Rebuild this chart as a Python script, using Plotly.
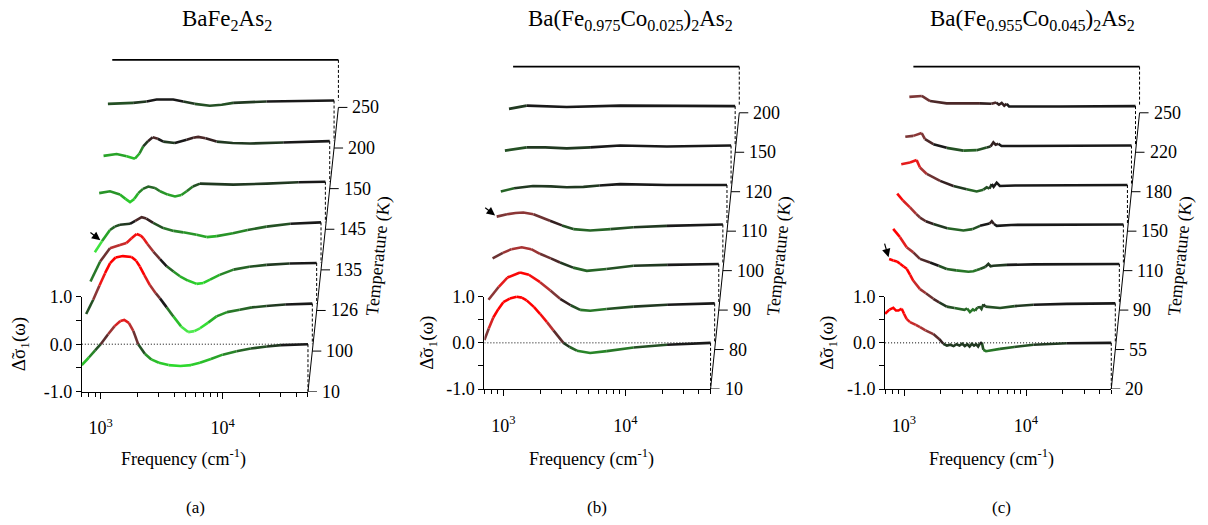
import math
import plotly.graph_objects as go

# ---------------------------------------------------------------------------
# Δσ1(ω) difference spectra; frequency in cm^-1, one curve per temperature (K)
# ---------------------------------------------------------------------------

# (a) BaFe2As2
temps_a = [10, 100, 126, 135, 145, 150, 200, 250]
a010_f = [700, 800, 900, 1000, 1150, 1300, 1450, 1560, 1700, 1850, 2030, 2300, 2600, 3000, 3600, 4500,
          5500, 6500, 8000, 10000, 13000, 17000, 23000, 30000, 40000, 50000]
a010_v = [-0.44, -0.28, -0.13, 0.0, 0.21, 0.38, 0.49, 0.51, 0.45, 0.28, 0.0, -0.2, -0.32, -0.39, -0.44, -0.46,
          -0.44, -0.39, -0.31, -0.22, -0.15, -0.09, -0.05, -0.02, -0.01, 0.0]
a100_f = [700, 800, 900, 1000, 1100, 1220, 1400, 1650, 1800, 1930, 2100, 2330, 2600, 2820, 3200, 3630, 4200,
          4800, 5400, 6000, 7000, 8200, 10000, 12700, 16000, 21000, 30000, 50000]
a100_v = [-0.22, 0.08, 0.38, 0.64, 0.85, 0.97, 1.0, 0.98, 0.9, 0.78, 0.6, 0.39, 0.22, 0.11, -0.08, -0.27, -0.48,
          -0.6, -0.58, -0.52, -0.4, -0.27, -0.18, -0.13, -0.08, -0.05, -0.02, 0.0]
a126_f = [700, 840, 1010, 1220, 1380, 1520, 1670, 1800, 1900, 2050, 2290, 2600, 2950, 3350, 3790, 4400, 5190,
          5900, 6680, 8000, 10400, 14000, 19400, 30000, 50000]
a126_v = [-0.39, 0.03, 0.31, 0.38, 0.42, 0.52, 0.61, 0.58, 0.52, 0.4, 0.24, 0.08, -0.07, -0.18, -0.28, -0.37,
          -0.44, -0.42, -0.35, -0.25, -0.14, -0.08, -0.04, -0.01, 0.0]
a135_f = [700, 800, 931, 1020, 1124, 1250, 1358, 1500, 1693, 1850, 2106, 2546, 3100, 3710, 4780, 5770, 7000,
          9480, 12500, 17880, 28000, 50000]
a135_v = [-0.63, -0.4, -0.16, -0.09, -0.05, -0.03, -0.03, 0.03, 0.11, 0.08, -0.01, -0.12, -0.18, -0.21, -0.26,
          -0.31, -0.29, -0.23, -0.16, -0.09, -0.03, 0.0]
a145_f = [700, 858, 1036, 1150, 1252, 1360, 1464, 1600, 1769, 2000, 2207, 2550, 2928, 3300, 3650, 4100, 4690,
          6000, 8790, 16540, 30000, 50000]
a145_v = [-0.24, -0.2, -0.27, -0.36, -0.43, -0.36, -0.24, -0.15, -0.1, -0.13, -0.2, -0.27, -0.31, -0.28, -0.2,
          -0.1, -0.04, -0.05, -0.06, -0.04, -0.01, 0.0]
a150_f = [700, 896, 1082, 1266, 1380, 1480, 1620, 1769, 1950, 2160, 2690, 3360, 3800, 4180, 4800, 5910, 8000,
          11100, 20800, 50000]
a150_v = [-0.31, -0.27, -0.32, -0.37, -0.26, -0.11, 0.0, 0.08, 0.05, -0.01, -0.04, 0.03, 0.07, 0.09, 0.06,
          -0.01, -0.04, -0.05, -0.03, 0.0]
a200_f = [700, 1128, 1453, 1755, 2400, 2900, 3600, 4790, 6000, 7440, 14000, 50000]
a200_v = [-0.07, -0.05, -0.02, 0.02, 0.02, -0.02, -0.07, -0.11, -0.09, -0.05, -0.02, 0.0]
a250_f = [700, 50000]
a250_v = [0.0, 0.0]

# (b) Ba(Fe0.975Co0.025)2As2
temps_b = [10, 80, 90, 100, 110, 120, 150, 200]
b010_f = [700, 760, 828, 910, 1000, 1130, 1288, 1420, 1553, 1780, 2000, 2280, 2575, 3110, 3500, 4010, 5150,
          7060, 11700, 22000, 50000]
b010_v = [0.06, 0.31, 0.55, 0.73, 0.88, 0.96, 1.0, 0.98, 0.92, 0.78, 0.63, 0.45, 0.27, 0.0, -0.09, -0.17,
          -0.22, -0.18, -0.1, -0.04, 0.0]
b080_f = [700, 850, 1000, 1269, 1500, 1852, 2250, 2704, 3300, 3950, 4770, 6500, 10800, 20400, 50000]
b080_v = [0.08, 0.36, 0.56, 0.67, 0.62, 0.46, 0.28, 0.1, -0.04, -0.14, -0.16, -0.12, -0.07, -0.03, 0.0]
b090_f = [700, 850, 1000, 1213, 1450, 1710, 2100, 2500, 3200, 4140, 6000, 10000, 18900, 50000]
b090_v = [0.12, 0.24, 0.32, 0.36, 0.32, 0.22, 0.12, 0.03, -0.08, -0.15, -0.11, -0.04, -0.02, 0.0]
b100_f = [700, 850, 1000, 1157, 1400, 1913, 2400, 2970, 4080, 6000, 9250, 17400, 50000]
b100_v = [0.17, 0.22, 0.25, 0.26, 0.22, 0.08, -0.02, -0.1, -0.13, -0.1, -0.06, -0.03, 0.0]
b110_f = [700, 900, 1285, 1800, 2430, 3330, 4500, 6660, 16100, 50000]
b110_v = [-0.14, -0.07, -0.02, -0.03, -0.05, -0.04, -0.01, 0.02, 0.0, 0.0]
b120_f = [700, 1056, 1500, 2250, 3500, 6170, 14900, 50000]
b120_v = [-0.11, -0.04, -0.04, -0.06, -0.04, 0.0, -0.02, 0.0]
b150_f = [700, 978, 2080, 5720, 13800, 50000]
b150_v = [-0.06, 0.01, -0.02, 0.01, 0.0, 0.0]
b200_f = [700, 50000]
b200_v = [0.0, 0.0]

# (c) Ba(Fe0.955Co0.045)2As2
temps_c = [20, 55, 90, 110, 150, 180, 220, 250]
c020_f = [700, 760, 817, 860, 900, 958, 1000, 1050, 1120, 1250, 1353, 1500, 1740, 1950, 2100, 2250, 2400, 2550,
          2700, 2850, 3000, 3150, 3300, 3450, 3600, 3750, 3900, 4050, 4200, 4350, 4470, 4700, 6120, 8000, 11500,
          21600, 50000]
c020_v = [0.63, 0.72, 0.76, 0.7, 0.7, 0.74, 0.63, 0.52, 0.45, 0.39, 0.34, 0.27, 0.19, 0.08, -0.02, -0.06, -0.04,
          -0.07, -0.03, -0.06, -0.02, -0.07, -0.03, -0.08, -0.02, -0.06, -0.03, -0.08, -0.01, 0.01, -0.15, -0.18,
          -0.13, -0.09, -0.04, -0.01, 0.0]
c055_f = [700, 758, 810, 860, 920, 976, 1040, 1105, 1253, 1400, 1612, 1800, 2075, 2400, 2667, 2900, 3050, 3218,
          3400, 3550, 3700, 3890, 4000, 4150, 4300, 5000, 5680, 7500, 10650, 20000, 50000]
c055_v = [0.96, 0.93, 0.91, 0.86, 0.8, 0.75, 0.62, 0.49, 0.31, 0.22, 0.1, 0.02, -0.07, -0.1, -0.12, -0.14, -0.11,
          -0.19, -0.13, -0.16, -0.09, -0.08, -0.12, -0.02, -0.07, -0.09, -0.1, -0.06, -0.03, -0.01, 0.0]
c090_f = [700, 796, 903, 1023, 1160, 1403, 1650, 1922, 2300, 2630, 2900, 3180, 3400, 3610, 3800, 4000, 4220,
          4400, 4640, 6000, 10000, 50000]
c090_v = [0.76, 0.58, 0.36, 0.25, 0.11, 0.03, -0.04, -0.11, -0.14, -0.15, -0.17, -0.16, -0.13, -0.11, -0.08,
          -0.06, 0.0, -0.05, -0.04, -0.02, -0.01, 0.0]
c110_f = [700, 780, 891, 1000, 1076, 1200, 1383, 1800, 2440, 2900, 3340, 3700, 4000, 4170, 4350, 4580, 6000, 50000]
c110_v = [0.67, 0.52, 0.37, 0.23, 0.15, 0.07, 0.01, -0.08, -0.13, -0.1, -0.03, 0.0, 0.02, 0.07, 0.01, -0.03,
          -0.01, 0.0]
c150_f = [700, 825, 907, 936, 996, 1133, 1457, 1872, 2407, 2906, 3300, 3510, 3700, 3858, 4000, 4240, 4500, 6000,
          50000]
c150_v = [0.45, 0.49, 0.53, 0.54, 0.38, 0.24, 0.09, -0.02, -0.09, -0.14, -0.1, -0.05, -0.08, 0.02, -0.04, 0.05,
          -0.02, -0.01, 0.0]
c180_f = [700, 814, 954, 1015, 1188, 1529, 2093, 2694, 3252, 3500, 3690, 3850, 4055, 4300, 6000, 50000]
c180_v = [0.19, 0.21, 0.27, 0.14, 0.03, -0.05, -0.11, -0.1, -0.04, -0.02, 0.07, 0.02, 0.04, -0.01, -0.01, 0.0]
c220_f = [700, 805, 885, 1035, 1415, 1938, 2654, 3300, 3600, 3800, 4000, 4200, 4400, 4600, 12100, 50000]
c220_v = [0.2, 0.21, 0.22, 0.11, 0.06, 0.06, 0.06, 0.05, 0.08, 0.03, 0.07, 0.01, 0.05, -0.01, -0.01, 0.0]
c250_f = [700, 50000]
c250_v = [0.0, 0.0]

# ---------------------------------------------------------------------------
# page geometry (pixels) and waterfall parameters
# ---------------------------------------------------------------------------
W, H = 1208, 525
DECADE = 122.0            # px per decade on the frequency axis
F_MIN, F_MAX = 700.0, 50000.0
LOG_MIN, LOG_MAX = math.log10(F_MIN), math.log10(F_MAX)
FRONT_W = DECADE * (LOG_MAX - LOG_MIN)
OVER_W = 320.0            # width of the (hidden) waterfall axes
TOP_PX = 30.0
DY = 0.855                # vertical offset between successive curves (data units)
ZTICK_PX = 9.0
SERIF = "Liberation Serif"

panels = [
    dict(title="BaFe<sub>2</sub>As<sub>2</sub>", title_x=227, caption="(a)", caption_x=195,
         temps=temps_a,
         spectra=[(a010_f, a010_v), (a100_f, a100_v), (a126_f, a126_v), (a135_f, a135_v),
                  (a145_f, a145_v), (a150_f, a150_v), (a200_f, a200_v), (a250_f, a250_v)],
         left=81.8, bottom=391.7, ppu=47.5, dx=4.35,
         xtitle_x=183, ytitle_x=20, ztitle_x=378, arrow=(3, 1, -13, -10)),
    dict(title="Ba(Fe<sub>0.975</sub>Co<sub>0.025</sub>)<sub>2</sub>As<sub>2</sub>", title_x=630,
         caption="(b)", caption_x=597,
         temps=temps_b,
         spectra=[(b010_f, b010_v), (b080_f, b080_v), (b090_f, b090_v), (b100_f, b100_v),
                  (b110_f, b110_v), (b120_f, b120_v), (b150_f, b150_v), (b200_f, b200_v)],
         left=484.4, bottom=389.0, ppu=46.15, dx=4.1,
         xtitle_x=591, ytitle_x=428, ztitle_x=779, arrow=(3, 0, -13, -10)),
    dict(title="Ba(Fe<sub>0.955</sub>Co<sub>0.045</sub>)<sub>2</sub>As<sub>2</sub>", title_x=1032,
         caption="(c)", caption_x=1001,
         temps=temps_c,
         spectra=[(c020_f, c020_v), (c055_f, c055_v), (c090_f, c090_v), (c110_f, c110_v),
                  (c150_f, c150_v), (c180_f, c180_v), (c220_f, c220_v), (c250_f, c250_v)],
         left=885.1, bottom=389.0, ppu=46.15, dx=4.04,
         xtitle_x=991, ytitle_x=828, ztitle_x=1180, arrow=(1, 0, -5, -17)),
]

# colour of a curve segment as a function of Δσ1: green (negative) - black - red (positive)
COLOR_STOPS = [(-0.65, (95, 240, 95)), (-0.45, (45, 220, 45)), (-0.3, (40, 170, 40)),
               (-0.15, (40, 115, 40)), (-0.05, (35, 65, 35)), (0.0, (25, 25, 25)),
               (0.08, (75, 40, 40)), (0.2, (125, 55, 55)), (0.35, (180, 50, 50)),
               (0.5, (235, 25, 25)), (0.65, (255, 0, 0))]
BIN = 0.04


def value_color(v):
    if v <= COLOR_STOPS[0][0]:
        c = COLOR_STOPS[0][1]
    elif v >= COLOR_STOPS[-1][0]:
        c = COLOR_STOPS[-1][1]
    else:
        for (v0, c0), (v1, c1) in zip(COLOR_STOPS[:-1], COLOR_STOPS[1:]):
            if v0 <= v <= v1:
                t = (v - v0) / (v1 - v0)
                c = tuple(a + (b - a) * t for a, b in zip(c0, c1))
                break
    return "rgb(%d,%d,%d)" % tuple(int(round(x)) for x in c)


def paper_x(px):
    return px / W


def paper_y(py):
    return 1.0 - py / H


fig = go.Figure()
layout = dict(width=W, height=H, autosize=False,
              margin=dict(l=0, r=0, t=0, b=0, pad=0, autoexpand=False), showlegend=False,
              paper_bgcolor="white", plot_bgcolor="rgba(0,0,0,0)",
              font=dict(family=SERIF, color="black", size=18))
annotations = []

for i, p in enumerate(panels):
    fa, oa = 2 * i + 1, 2 * i + 2
    fx, fy = ("x", "y") if fa == 1 else ("x%d" % fa, "y%d" % fa)
    ox, oy = "x%d" % oa, "y%d" % oa
    fxk = "xaxis" if fa == 1 else "xaxis%d" % fa
    fyk = "yaxis" if fa == 1 else "yaxis%d" % fa

    left, bottom, ppu = p["left"], p["bottom"], p["ppu"]
    top_front = bottom - 2 * ppu

    # front (visible) axes
    layout[fxk] = dict(type="log", range=[LOG_MIN, LOG_MAX], anchor=fy, automargin=False,
                       domain=[paper_x(left), paper_x(left + FRONT_W)],
                       showline=True, linecolor="black", linewidth=1, mirror=False,
                       showgrid=False, zeroline=False,
                       ticks="outside", ticklen=6, tickcolor="black", tickwidth=1,
                       tickvals=[1000, 10000], ticktext=["10<sup>3</sup>", "10<sup>4</sup>"],
                       ticklabelstandoff=14,
                       minor=dict(tickvals=[700, 800, 900, 2000, 3000, 4000, 5000, 6000, 7000, 8000,
                                            9000, 20000, 30000, 40000, 50000],
                                  ticks="outside", ticklen=4, tickcolor="black", showgrid=False),
                       tickfont=dict(size=18, family=SERIF))
    layout[fyk] = dict(range=[-1, 1], anchor=fx, automargin=False,
                       domain=[paper_y(bottom), paper_y(top_front)],
                       showline=True, linecolor="black", linewidth=1,
                       showgrid=False, zeroline=False,
                       ticks="outside", ticklen=5, tickcolor="black",
                       tickvals=[-1, 0, 1], ticktext=["-1.0", "0.0", "1.0"],
                       minor=dict(tickvals=[-0.5, 0.5], ticks="outside", ticklen=5,
                                  tickcolor="black", showgrid=False),
                       tickfont=dict(size=18, family=SERIF))

    # hidden axes carrying the offset curves (same scale as the front axes)
    layout["xaxis%d" % oa] = dict(type="log", range=[LOG_MIN, LOG_MIN + OVER_W / DECADE], anchor=oy,
                                  domain=[paper_x(left), paper_x(left + OVER_W)], visible=False)
    layout["yaxis%d" % oa] = dict(range=[-1, -1 + (bottom - TOP_PX) / ppu], anchor=ox,
                                  domain=[paper_y(bottom), paper_y(TOP_PX)], visible=False)

    # dotted zero line of the front curve
    fig.add_trace(go.Scatter(x=[F_MIN, F_MAX], y=[0, 0], mode="lines", xaxis=fx, yaxis=fy,
                             line=dict(color="black", width=1, dash="1px,2px"), hoverinfo="skip"))

    n = len(p["spectra"])
    shift = [10 ** (k * p["dx"] / DECADE) for k in range(n)]

    # coloured curves, grouped by colour bin
    groups = {}
    for k, (fr, vals) in enumerate(p["spectra"]):
        xs = [f * shift[k] for f in fr]
        ys = [v + k * DY for v in vals]
        if k == n - 1:
            fig.add_trace(go.Scatter(x=xs, y=ys, mode="lines", xaxis=ox, yaxis=oy,
                                     line=dict(color="black", width=1.6), hoverinfo="skip"))
            continue
        cur = None
        for j in range(len(xs) - 1):
            key = int(round(0.5 * (vals[j] + vals[j + 1]) / BIN))
            if cur is None or key != cur:
                cur = key
                gx, gy = groups.setdefault(key, ([], []))
                if gx:
                    gx.append(None)
                    gy.append(None)
                gx.append(xs[j])
                gy.append(ys[j])
            gx, gy = groups[key]
            gx.append(xs[j + 1])
            gy.append(ys[j + 1])
    for key in sorted(groups):
        gx, gy = groups[key]
        fig.add_trace(go.Scatter(x=gx, y=gy, mode="lines", xaxis=ox, yaxis=oy,
                                 line=dict(color=value_color(key * BIN), width=2.6),
                                 connectgaps=False, hoverinfo="skip"))

    # dashed drop lines at the high-frequency end of every curve
    dx_, dy_ = [], []
    for k, (fr, vals) in enumerate(p["spectra"]):
        xe = fr[-1] * shift[k]
        ye = vals[-1] + k * DY
        dx_ += [xe, xe, None]
        dy_ += [ye, ye - (1.0 if k == 0 else DY), None]
    fig.add_trace(go.Scatter(x=dx_, y=dy_, mode="lines", xaxis=ox, yaxis=oy,
                             line=dict(color="black", width=1, dash="3px,2px"), hoverinfo="skip"))

    # slanted temperature axis with ticks and labels
    zx = [F_MAX * shift[k] for k in range(n)]
    zy = [-1 + k * DY for k in range(n)]
    fig.add_trace(go.Scatter(x=[zx[0], zx[-1]], y=[zy[0], zy[-1]], mode="lines", xaxis=ox, yaxis=oy,
                             line=dict(color="black", width=1), hoverinfo="skip"))
    tx, ty = [], []
    tick_factor = 10 ** (ZTICK_PX / DECADE)
    for k in range(n):
        tx += [zx[k], zx[k] * tick_factor, None]
        ty += [zy[k], zy[k], None]
        annotations.append(dict(x=math.log10(zx[k]), y=zy[k], xref=ox, yref=oy, text=str(p["temps"][k]),
                                showarrow=False, xanchor="left", yanchor="middle", xshift=ZTICK_PX + 3,
                                font=dict(size=18, family=SERIF)))
    fig.add_trace(go.Scatter(x=tx, y=ty, mode="lines", xaxis=ox, yaxis=oy,
                             line=dict(color="black", width=1), hoverinfo="skip"))

    # arrow marking the transition curve
    ka, ja, axp, ayp = p["arrow"]
    fr, vals = p["spectra"][ka]
    annotations.append(dict(x=math.log10(fr[ja] * shift[ka]), y=vals[ja] + ka * DY, xref=ox, yref=oy,
                            text="", showarrow=True, arrowhead=2, arrowsize=1.4, arrowwidth=1.2,
                            arrowcolor="black", ax=axp, ay=ayp, standoff=2))

    # titles
    annotations += [
        dict(x=paper_x(p["title_x"]), y=paper_y(20), xref="paper", yref="paper", text=p["title"],
             showarrow=False, xanchor="center", yanchor="middle", font=dict(size=23, family=SERIF)),
        dict(x=paper_x(p["xtitle_x"]), y=paper_y(458), xref="paper", yref="paper",
             text="Frequency (cm<sup>-1</sup>)", showarrow=False, xanchor="center", yanchor="middle",
             font=dict(size=18, family=SERIF)),
        dict(x=paper_x(p["ytitle_x"]), y=paper_y(bottom - ppu), xref="paper", yref="paper",
             text="\u0394\u0303\u03c3<sub>1</sub>(\u03c9)", textangle=-90, showarrow=False,
             xanchor="center", yanchor="middle", font=dict(size=19, family=SERIF)),
        dict(x=paper_x(p["ztitle_x"]), y=paper_y(256), xref="paper", yref="paper",
             text="Temperature (K)", textangle=-84, showarrow=False,
             xanchor="center", yanchor="middle", font=dict(size=18, family=SERIF)),
        dict(x=paper_x(p["caption_x"]), y=paper_y(507), xref="paper", yref="paper", text=p["caption"],
             showarrow=False, xanchor="center", yanchor="middle", font=dict(size=17, family=SERIF)),
    ]

layout["annotations"] = annotations
fig.update_layout(**layout)
fig.write_html("out.html")
